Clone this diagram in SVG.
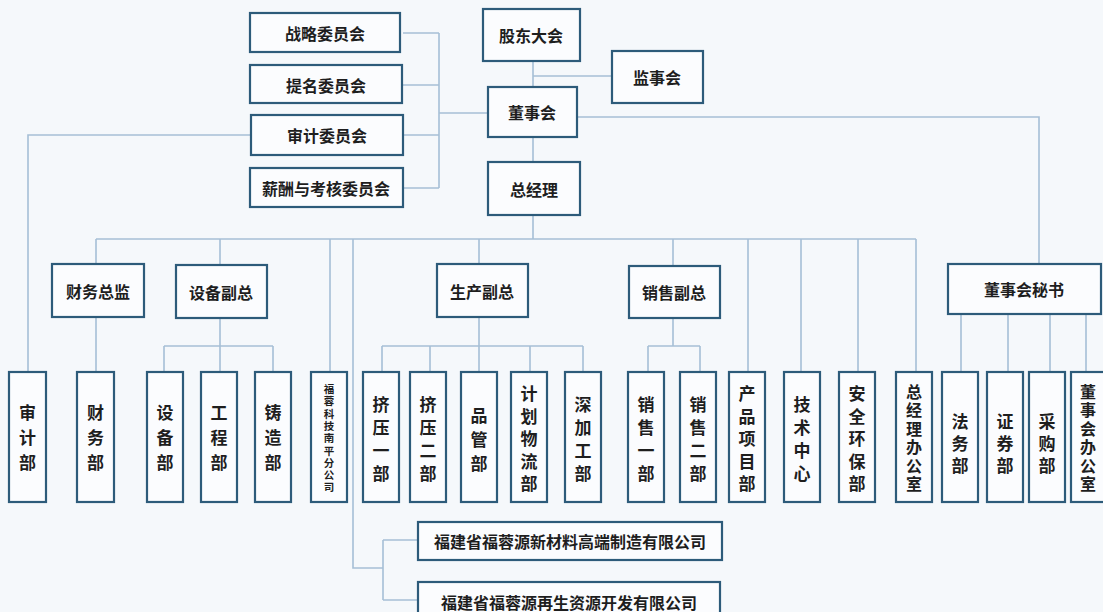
<svg xmlns="http://www.w3.org/2000/svg" width="1103" height="612" viewBox="0 0 1103 612">
<style>
.bx{fill:#fbfcfe;stroke:#2d5b7a;stroke-width:2.2}
.ln{fill:none;stroke:#a6bfd6;stroke-width:1.6}
.t{font-family:"Noto Sans CJK SC","Noto Sans",sans-serif;font-weight:700;fill:#1e1e1e;text-anchor:middle;dominant-baseline:central}
.h{font-size:16px}
.v{font-size:17px}
.v6{font-size:16px}
.vs{font-size:10.5px}
</style>
<rect width="1103" height="612" fill="#f5f8fb"/>
<g id="connectors">
<path class="ln" d="M403 33H439M403 85H439M403 135H439M403 188H439M439 33V188M439 113H488"/>
<path class="ln" d="M533 61V87M533 76H612M533 137V162M533 215V239M96 239H916"/>
<path class="ln" d="M577 117H1039V264M251 135H28V372"/>
<path class="ln" d="M96 239V264M220 239V265M330 239V372M479 239V264M673 239V266M748 239V372M801 239V372M858 239V372M916 239V372"/>
<path class="ln" d="M353 239V568H383M383 540V600M383 540H418M383 600H418"/>
<path class="ln" d="M96 317V372M220 318V346M164 346H273M164 346V372M220 346V372M273 346V372"/>
<path class="ln" d="M479 317V346M382 346H583M382 346V372M430 346V372M479 346V372M530 346V372M583 346V372"/>
<path class="ln" d="M673 318V346M648 346H700M648 346V372M700 346V372"/>
<path class="ln" d="M961 314V372M1008 314V372M1050 314V372M1086 314V372"/>
</g>
<g id="n-zhanlue"><rect class="bx" x="250" y="13" width="150" height="39"/><text class="t h" x="325" y="33">战略委员会</text></g>
<g id="n-timing"><rect class="bx" x="250" y="65" width="152" height="38"/><text class="t h" x="326" y="85">提名委员会</text></g>
<g id="n-shenji-wyh"><rect class="bx" x="251" y="115" width="152" height="40"/><text class="t h" x="327" y="135">审计委员会</text></g>
<g id="n-xinchou"><rect class="bx" x="250" y="168" width="153" height="39"/><text class="t h" x="326" y="188">薪酬与考核委员会</text></g>
<g id="n-gudong"><rect class="bx" x="483" y="9" width="97" height="52"/><text class="t h" x="531" y="35">股东大会</text></g>
<g id="n-jianshi"><rect class="bx" x="612" y="51" width="91" height="52"/><text class="t h" x="657" y="77">监事会</text></g>
<g id="n-dongshi"><rect class="bx" x="488" y="87" width="89" height="50"/><text class="t h" x="532" y="112">董事会</text></g>
<g id="n-zongjingli"><rect class="bx" x="488" y="162" width="92" height="53"/><text class="t h" x="534" y="189">总经理</text></g>
<g id="n-caiwuzj"><rect class="bx" x="52" y="264" width="92" height="53"/><text class="t h" x="98" y="291">财务总监</text></g>
<g id="n-shebeifz"><rect class="bx" x="176" y="265" width="91" height="53"/><text class="t h" x="221" y="292">设备副总</text></g>
<g id="n-shengchanfz"><rect class="bx" x="437" y="264" width="91" height="53"/><text class="t h" x="482" y="291">生产副总</text></g>
<g id="n-xiaoshoufz"><rect class="bx" x="629" y="266" width="91" height="52"/><text class="t h" x="674" y="292">销售副总</text></g>
<g id="n-mishu"><rect class="bx" x="948" y="264" width="153" height="50"/><text class="t h" x="1024" y="289">董事会秘书</text></g>

<g id="n-shenjibu"><rect class="bx" x="9" y="372" width="37" height="130"/><text class="t v"><tspan x="27.5" y="411">审</tspan><tspan x="27.5" y="436">计</tspan><tspan x="27.5" y="461">部</tspan></text></g>
<g id="n-caiwubu"><rect class="bx" x="77" y="372" width="37" height="130"/><text class="t v"><tspan x="95.5" y="411">财</tspan><tspan x="95.5" y="436">务</tspan><tspan x="95.5" y="461">部</tspan></text></g>
<g id="n-shebeibu"><rect class="bx" x="147" y="372" width="36" height="130"/><text class="t v"><tspan x="165" y="411">设</tspan><tspan x="165" y="436">备</tspan><tspan x="165" y="461">部</tspan></text></g>
<g id="n-gongcheng"><rect class="bx" x="201" y="372" width="36" height="130"/><text class="t v"><tspan x="219" y="411">工</tspan><tspan x="219" y="436">程</tspan><tspan x="219" y="461">部</tspan></text></g>
<g id="n-zhuzao"><rect class="bx" x="255" y="372" width="36" height="130"/><text class="t v"><tspan x="273" y="411">铸</tspan><tspan x="273" y="436">造</tspan><tspan x="273" y="461">部</tspan></text></g>
<g id="n-nanping"><rect class="bx" x="311" y="372" width="36" height="130"/><text class="t vs"><tspan x="329" y="388">福</tspan><tspan x="329" y="400.3">蓉</tspan><tspan x="329" y="412.6">科</tspan><tspan x="329" y="424.9">技</tspan><tspan x="329" y="437.2">南</tspan><tspan x="329" y="449.5">平</tspan><tspan x="329" y="461.8">分</tspan><tspan x="329" y="474.1">公</tspan><tspan x="329" y="486.4">司</tspan></text></g>
<g id="n-jiya1"><rect class="bx" x="363" y="372" width="36" height="130"/><text class="t v"><tspan x="381" y="403">挤</tspan><tspan x="381" y="426">压</tspan><tspan x="381" y="449">一</tspan><tspan x="381" y="472">部</tspan></text></g>
<g id="n-jiya2"><rect class="bx" x="410" y="372" width="36" height="130"/><text class="t v"><tspan x="428" y="403">挤</tspan><tspan x="428" y="426">压</tspan><tspan x="428" y="449">二</tspan><tspan x="428" y="472">部</tspan></text></g>
<g id="n-pinguan"><rect class="bx" x="461" y="372" width="36" height="130"/><text class="t v"><tspan x="479" y="414">品</tspan><tspan x="479" y="438">管</tspan><tspan x="479" y="462">部</tspan></text></g>
<g id="n-jihua"><rect class="bx" x="511" y="372" width="36" height="130"/><text class="t v"><tspan x="529" y="392">计</tspan><tspan x="529" y="414.5">划</tspan><tspan x="529" y="437">物</tspan><tspan x="529" y="459.5">流</tspan><tspan x="529" y="482">部</tspan></text></g>
<g id="n-shenjiagong"><rect class="bx" x="565" y="372" width="36" height="130"/><text class="t v"><tspan x="583" y="403">深</tspan><tspan x="583" y="426">加</tspan><tspan x="583" y="449">工</tspan><tspan x="583" y="472">部</tspan></text></g>
<g id="n-xiaoshou1"><rect class="bx" x="628" y="372" width="36" height="130"/><text class="t v"><tspan x="646" y="403">销</tspan><tspan x="646" y="426">售</tspan><tspan x="646" y="449">一</tspan><tspan x="646" y="472">部</tspan></text></g>
<g id="n-xiaoshou2"><rect class="bx" x="680" y="372" width="36" height="130"/><text class="t v"><tspan x="698" y="403">销</tspan><tspan x="698" y="426">售</tspan><tspan x="698" y="449">二</tspan><tspan x="698" y="472">部</tspan></text></g>
<g id="n-chanpin"><rect class="bx" x="729" y="372" width="36" height="130"/><text class="t v"><tspan x="747" y="392">产</tspan><tspan x="747" y="414.5">品</tspan><tspan x="747" y="437">项</tspan><tspan x="747" y="459.5">目</tspan><tspan x="747" y="482">部</tspan></text></g>
<g id="n-jishu"><rect class="bx" x="784" y="372" width="36" height="130"/><text class="t v"><tspan x="802" y="403">技</tspan><tspan x="802" y="426">术</tspan><tspan x="802" y="449">中</tspan><tspan x="802" y="472">心</tspan></text></g>
<g id="n-anquan"><rect class="bx" x="839" y="372" width="36" height="130"/><text class="t v"><tspan x="857" y="392">安</tspan><tspan x="857" y="414.5">全</tspan><tspan x="857" y="437">环</tspan><tspan x="857" y="459.5">保</tspan><tspan x="857" y="482">部</tspan></text></g>
<g id="n-zjlbgs"><rect class="bx" x="896" y="372" width="36" height="130"/><text class="t v6"><tspan x="914" y="391">总</tspan><tspan x="914" y="409.4">经</tspan><tspan x="914" y="427.8">理</tspan><tspan x="914" y="446.2">办</tspan><tspan x="914" y="464.6">公</tspan><tspan x="914" y="483">室</tspan></text></g>
<g id="n-fawu"><rect class="bx" x="942" y="372" width="36" height="130"/><text class="t v"><tspan x="960" y="420">法</tspan><tspan x="960" y="442">务</tspan><tspan x="960" y="464">部</tspan></text></g>
<g id="n-zhengquan"><rect class="bx" x="987" y="372" width="36" height="130"/><text class="t v"><tspan x="1005" y="420">证</tspan><tspan x="1005" y="442">券</tspan><tspan x="1005" y="464">部</tspan></text></g>
<g id="n-caigou"><rect class="bx" x="1029" y="372" width="36" height="130"/><text class="t v"><tspan x="1047" y="420">采</tspan><tspan x="1047" y="442">购</tspan><tspan x="1047" y="464">部</tspan></text></g>
<g id="n-dshbgs"><rect class="bx" x="1071" y="372" width="38" height="130"/><text class="t v6"><tspan x="1088" y="391">董</tspan><tspan x="1088" y="409.4">事</tspan><tspan x="1088" y="427.8">会</tspan><tspan x="1088" y="446.2">办</tspan><tspan x="1088" y="464.6">公</tspan><tspan x="1088" y="483">室</tspan></text></g>

<g id="n-xincailiao"><rect class="bx" x="418" y="522" width="304" height="38"/><text class="t h" x="570" y="541">福建省福蓉源新材料高端制造有限公司</text></g>
<g id="n-zaisheng"><rect class="bx" x="418" y="582" width="302" height="38"/><text class="t h" x="569" y="602">福建省福蓉源再生资源开发有限公司</text></g>
</svg>
